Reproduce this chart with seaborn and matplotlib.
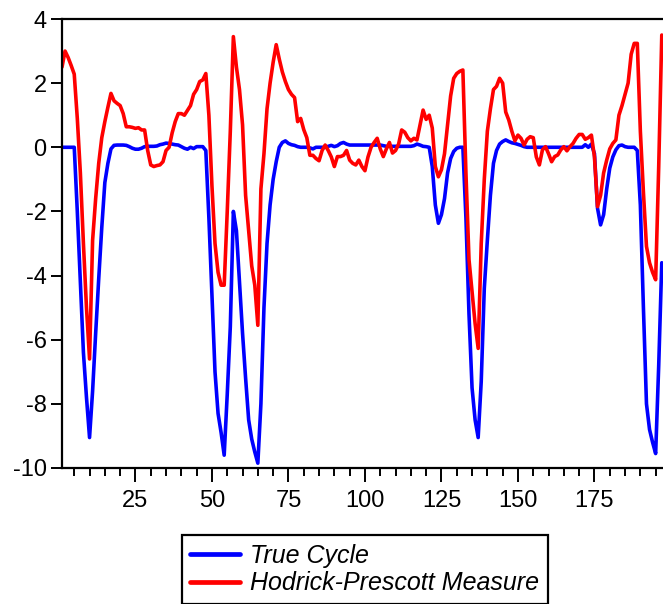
import numpy as np
import pandas as pd
import matplotlib
matplotlib.use("Agg")
import matplotlib.pyplot as plt
import seaborn as sns
from matplotlib.ticker import MultipleLocator, FixedLocator

true_cycle = [
    0, 0, 0, 0, 0,
    -2.0, -4.2, -6.4, -7.8, -9.05,
    -7.6, -5.8, -4.1, -2.5, -1.1,
    -0.5, -0.05, 0.06, 0.07, 0.07,
    0.07, 0.06, 0.02, -0.03, -0.06,
    -0.06, -0.03, 0.02, 0.03, 0.03,
    0.03, 0.04, 0.08, 0.10, 0.13,
    0.12, 0.10, 0.08, 0.07, 0.02,
    -0.03, -0.06, 0.0, -0.04, 0.02,
    0.02, 0.02, -0.1, -2.2, -4.6,
    -7.0, -8.3, -8.9, -9.6, -7.7,
    -5.6, -2.0, -2.6, -4.2, -5.8,
    -7.2, -8.5, -9.1, -9.5, -9.85,
    -8.0, -5.0, -3.0, -1.8, -1.0,
    -0.45, 0.0, 0.15, 0.2, 0.12,
    0.08, 0.06, 0.02, 0.0, 0.0,
    0.0, -0.02, -0.05, 0.0, 0.0,
    0.0, 0.0, 0.03, 0.06, 0.02,
    0.05, 0.12, 0.15, 0.10, 0.07,
    0.07, 0.07, 0.07, 0.07, 0.07,
    0.07, 0.07, 0.07, 0.07, 0.07,
    0.05, 0.03, 0.03, 0.03, 0.03,
    0.03, 0.03, 0.03, 0.03, 0.03,
    0.05, 0.10, 0.07, 0.03, 0.02,
    0.0, -0.6, -1.8, -2.37, -2.1,
    -1.6, -0.8, -0.35, -0.13, -0.03,
    0.0, 0.0, -2.2, -5.2, -7.5,
    -8.5, -9.05, -7.3, -4.4, -2.9,
    -1.5, -0.5, -0.1, 0.1, 0.18,
    0.23, 0.18, 0.14, 0.12, 0.09,
    0.06, 0.02, 0.0, 0.0, 0.0,
    0.0, 0.0, 0.0, 0.0, 0.0,
    0.0, 0.0, 0.0, 0.0, 0.0,
    0.0, 0.0, 0.0, 0.0, 0.0,
    0.0, 0.08, 0.0, 0.1, -0.2,
    -1.9, -2.42, -2.1, -1.3, -0.65,
    -0.3, -0.08, 0.05, 0.07, 0.02,
    0.0, 0.0, 0.0, -0.1, -1.8,
    -5.0, -8.0, -8.8, -9.2, -9.55,
    -6.8, -3.6,
]

hp_measure = [
    2.5, 3.0, 2.8, 2.55, 2.28,
    0.9, -0.8, -3.0, -5.0, -6.6,
    -2.9, -1.6, -0.5, 0.3, 0.8,
    1.25, 1.68, 1.45, 1.37, 1.3,
    1.05, 0.64, 0.64, 0.62, 0.59,
    0.61, 0.54, 0.54, -0.1, -0.55,
    -0.6, -0.57, -0.55, -0.45, -0.1,
    0.0, 0.45, 0.8, 1.05, 1.05,
    1.0, 1.15, 1.3, 1.65, 1.8,
    2.05, 2.1, 2.3, 1.0, -1.2,
    -3.0, -3.9, -4.3, -4.3, -2.0,
    0.5, 3.45, 2.5, 1.8, 0.7,
    -1.5, -2.6, -3.7, -4.3, -5.55,
    -1.3, -0.2, 1.2, 2.0, 2.65,
    3.2, 2.75, 2.35, 2.05, 1.8,
    1.65, 1.55, 0.8, 0.9, 0.55,
    0.3, -0.25, -0.25, -0.35, -0.42,
    -0.1, 0.07, -0.1, -0.3, -0.6,
    -0.29, -0.29, -0.25, -0.1, -0.4,
    -0.5, -0.55, -0.4, -0.6, -0.73,
    -0.3, 0.0, 0.15, 0.28, -0.05,
    -0.29, -0.05, 0.15, -0.18, -0.1,
    0.1, 0.54, 0.47, 0.3, 0.2,
    0.28, 0.23, 0.7, 1.16, 0.87,
    1.0, 0.6, -0.6, -0.92, -0.7,
    -0.2, 0.7, 1.6, 2.15, 2.3,
    2.37, 2.41, -0.8, -3.5, -4.5,
    -5.5, -6.27, -3.0, -1.0, 0.5,
    1.2, 1.8, 1.9, 2.15, 2.0,
    1.1, 0.85, 0.5, 0.2, 0.38,
    0.28, 0.07, 0.25, 0.33, 0.3,
    -0.3, -0.55, -0.08, 0.02, -0.2,
    -0.45, -0.29, -0.24, -0.08, 0.02,
    -0.11, 0.02, 0.12, 0.28, 0.4,
    0.4, 0.25, 0.3, 0.38, -0.3,
    -1.85, -1.5, -0.8, -0.4, -0.05,
    0.12, 0.23, 1.0, 1.3, 1.65,
    2.0, 2.9, 3.24, 3.24, 0.5,
    -1.4, -3.09, -3.6, -3.9, -4.13,
    -0.6, 3.5,
]

series_names = ["True Cycle", "Hodrick-Prescott Measure"]
series_colors = ["#0000FF", "#FF0000"]
y_ticks = [-10, -8, -6, -4, -2, 0, 2, 4]
x_major_ticks = [25, 50, 75, 100, 125, 150, 175]

obs = np.arange(1, len(true_cycle) + 1)
df = pd.DataFrame({
    "obs": np.concatenate([obs, obs]),
    "value": np.concatenate([true_cycle, hp_measure]),
    "series": [series_names[0]] * len(obs) + [series_names[1]] * len(obs),
})

sns.set_style("ticks")
plt.rcParams["font.family"] = ["Liberation Sans", "DejaVu Sans"]
plt.rcParams["axes.unicode_minus"] = False
plt.rcParams["text.color"] = "black"
plt.rcParams["xtick.color"] = "black"
plt.rcParams["ytick.color"] = "black"

fig = plt.figure(figsize=(6.63, 6.04), dpi=100)
ax = fig.add_axes([62 / 663, 1 - 468 / 604, 601 / 663, 449 / 604])

sns.lineplot(data=df, x="obs", y="value", hue="series", palette=series_colors,
             hue_order=series_names, linewidth=2.6, ax=ax, legend=False)

ax.set_xlim(1, 197.4)
ax.set_ylim(-10, 4)
ax.set_xlabel("")
ax.set_ylabel("")
ax.yaxis.set_major_locator(FixedLocator(y_ticks))
ax.xaxis.set_major_locator(FixedLocator(x_major_ticks))
ax.xaxis.set_minor_locator(MultipleLocator(5))

for side in ["left", "bottom", "top"]:
    ax.spines[side].set_linewidth(1.6)
    ax.spines[side].set_color("black")
ax.spines["right"].set_visible(False)

ax.tick_params(axis="y", which="major", direction="out", length=8, width=1.4,
               labelsize=17, pad=3, colors="black")
ax.tick_params(axis="x", which="major", direction="out", length=10, width=1.4,
               labelsize=17, pad=6, colors="black")
ax.tick_params(axis="x", which="minor", direction="out", length=6, width=1.4)

handles = [plt.Line2D([], [], color=c, linewidth=3.4) for c in series_colors]
leg = fig.legend(handles, series_names, loc="upper left",
                 bbox_to_anchor=(181.7 / 663, 1 - 535 / 604),
                 bbox_transform=fig.transFigure, borderaxespad=0,
                 frameon=True, fancybox=False, framealpha=1,
                 edgecolor="black", handlelength=2.0, handletextpad=0.4,
                 labelspacing=0.15, borderpad=0.35,
                 prop={"style": "italic", "size": 18})
leg.get_frame().set_linewidth(1.6)
for t in leg.get_texts():
    t.set_color("black")

fig.savefig("out.png", dpi=100)
